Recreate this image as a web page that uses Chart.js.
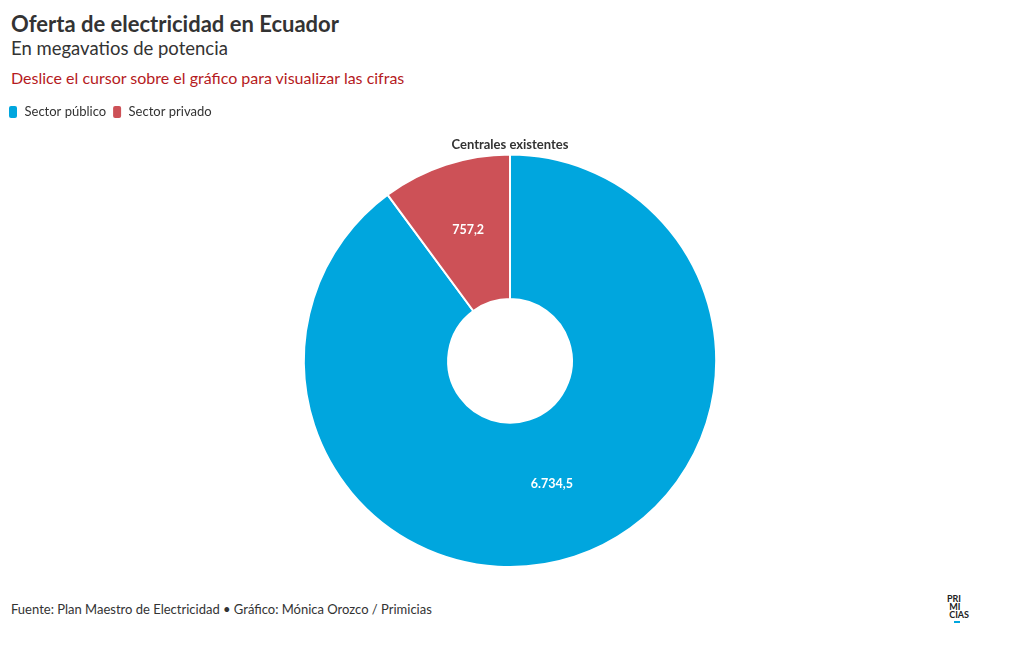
<!DOCTYPE html>
<html>
<head>
<meta charset="utf-8">
<script src="https://cdn.jsdelivr.net/npm/chart.js@4"></script>
<style>
  body { margin: 0; background: #fff; font-family: Lato, "Noto Sans", sans-serif; color: #333; }
  #wrap { position: relative; width: 1020px; height: 650px; }
  .title { position: absolute; left: 11px; top: 10px; font-size: 22px; font-weight: bold; color: #333; }
  .sub { position: absolute; left: 11px; top: 37px; font-size: 18.5px; color: #333; }
  .hint { position: absolute; left: 11px; top: 68px; font-size: 16px; color: #b51a22; }
  .foot { position: absolute; left: 11px; top: 601px; font-size: 13px; color: #333; }
  .logo { position: absolute; left: 947px; top: 595px; font-size: 9px; font-weight: bold; line-height: 8px; color: #222; }
  .logo span { display: block; }
  .logo .bar { width: 6px; height: 2px; background: #00a6de; margin: 2px 0 0 7px; }
  #box { position: absolute; left: 2px; top: 99px; width: 1016px; height: 479px; }
</style>
</head>
<body>
<div id="wrap">
  <div class="title">Oferta de electricidad en Ecuador</div>
  <div class="sub">En megavatios de potencia</div>
  <div class="hint">Deslice el cursor sobre el gráfico para visualizar las cifras</div>
  <div id="box"><canvas id="chartCanvas"></canvas></div>
  <div class="foot">Fuente: Plan Maestro de Electricidad • Gráfico: Mónica Orozco / Primicias</div>
  <div class="logo"><span>PRI</span><span>&nbsp;MI</span><span>&nbsp;CIAS</span><div class="bar"></div></div>
</div>
<script>
const categories = ["Sector público", "Sector privado"];
const values = [6734.5, 757.2];
const valueLabels = ["6.734,5", "757,2"];
const colors = ["#00a6de", "#cd5157"];

// slice values, white bold text at each arc's midpoint
const sliceLabels = {
  id: "sliceLabels",
  afterDatasetsDraw(chart) {
    const ctx = chart.ctx;
    const meta = chart.getDatasetMeta(0);
    ctx.save();
    ctx.font = "bold 12.5px Lato, 'Noto Sans', sans-serif";
    ctx.fillStyle = "#fff";
    ctx.textAlign = "center";
    ctx.textBaseline = "middle";
    meta.data.forEach((arc, i) => {
      const p = arc.tooltipPosition();
      ctx.fillText(valueLabels[i], p.x, p.y - 4);
    });
    ctx.restore();
  }
};

new Chart(document.getElementById("chartCanvas"), {
  type: "doughnut",
  data: {
    labels: categories,
    datasets: [{
      data: values,
      backgroundColor: colors,
      borderColor: "#fff",
      borderWidth: 2
    }]
  },
  options: {
    responsive: true,
    maintainAspectRatio: false,
    animation: false,
    cutout: "30%",
    layout: { padding: { bottom: 10 } },
    plugins: {
      legend: {
        position: "top",
        align: "start",
        labels: {
          boxWidth: 10,
          boxHeight: 14,
          useBorderRadius: true,
          borderRadius: 3,
          padding: 6,
          color: "#333",
          font: { family: "Lato, 'Noto Sans', sans-serif", size: 13 }
        }
      },
      title: {
        display: true,
        weight: 500,
        text: "Centrales existentes",
        color: "#333",
        font: { family: "Lato, 'Noto Sans', sans-serif", size: 13, weight: "bold" },
        padding: { top: 8, bottom: 1 }
      },
      tooltip: { enabled: true }
    }
  },
  plugins: [sliceLabels]
});
</script>
</body>
</html>
